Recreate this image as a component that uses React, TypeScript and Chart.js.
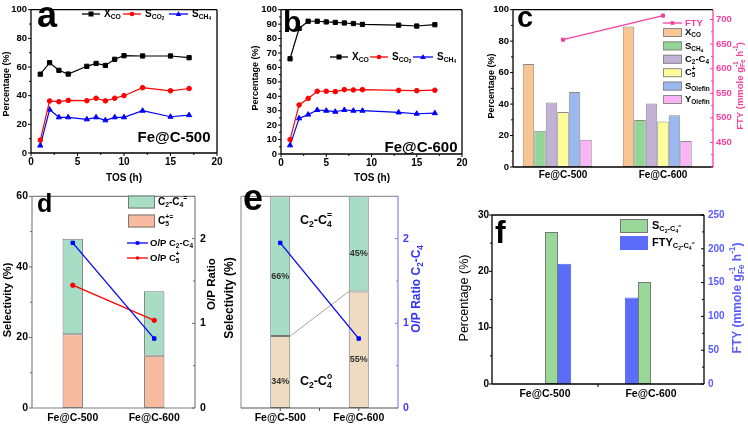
import React, { useEffect, useRef } from 'react';
import { Chart, registerables } from 'chart.js';

Chart.register(...registerables);

const FONT = '"Liberation Sans", Arial, Helvetica, sans-serif';

// ---------------- data ----------------
const tosA = [1, 2, 3, 4, 6, 7, 8, 9, 10, 12, 15, 17];
const xcoA = [55, 63, 57.7, 55.1, 60.5, 62.5, 61.1, 65.4, 67.9, 67.7, 67.7, 66.5];
const sco2A = [9, 36.3, 35.8, 36.7, 36.5, 38.2, 36.4, 38.2, 40, 45.6, 43.4, 45];
const sch4A = [5.2, 30.3, 24.9, 24.9, 23.5, 24.9, 22.8, 24.9, 24.9, 29.5, 25.3, 26.4];

const tosB = [1, 2, 3, 4, 5, 6, 7, 8, 9, 13, 15, 17];
const xcoB = [66, 87, 92, 92, 91.5, 91.2, 90.8, 90.4, 89.8, 89.3, 88.7, 89.6];
const sco2B = [10, 34, 38.5, 43.5, 43.5, 43.2, 44.6, 44.4, 44.6, 44.1, 43.9, 44.2];
const sch4B = [6, 24.7, 27.3, 30.5, 30, 29.3, 30.5, 30, 30, 28.8, 27.9, 28.3];

const catsFe = ['Fe@C-500', 'Fe@C-600'];
const xcoC = [65.5, 89.3];
const sch4C = [23.1, 29.9];
const c2c4C = [41, 40.3];
const c5C = [34.9, 29];
const sOlefinC = [47.7, 32.9];
const yOlefinC = [17.3, 16.5];
const ftyC = [659, 708];
const ftyTicksC = [450, 500, 550, 600, 650, 700];

const c5oleD = [20.9, 14.8];
const c2c4oleD = [27.1, 18.3];
const opC2C4 = [1.95, 0.82];
const opC5 = [1.45, 1.035];
const ratioTicks = [0, 1, 2];

const paraffinE = [34, 55];
const olefinE = [66, 45];

const sC2C4F = [27, 18.1];
const ftyC2C4F = [178, 128];

// ---------------- colours ----------------
const RED = '#ff0000';
const BLUE = '#0000ff';
const PINK = '#f5409e';
const FBLUE = '#5a5cff';

// ---------------- rich text ----------------
function font(fs: number, bold: boolean) {
  return `${bold ? 'bold ' : ''}${fs}px ${FONT}`;
}
function group(s: string, j: number): [string, number] {
  let depth = 0;
  let k = j;
  for (; k < s.length; k++) {
    if (s[k] === '{') depth++;
    else if (s[k] === '}') {
      depth--;
      if (depth === 0) break;
    }
  }
  return [s.slice(j + 1, k), k + 1];
}
type Run = { t: string; x: number; dy: number; fs: number };
function lay(ctx: CanvasRenderingContext2D, s: string, fs: number, dy: number, x0: number, bold: boolean, out: Run[]): number {
  let x = x0;
  let buf = '';
  let i = 0;
  const flush = () => {
    if (buf) {
      ctx.font = font(fs, bold);
      out.push({ t: buf, x, dy, fs });
      x += ctx.measureText(buf).width;
      buf = '';
    }
  };
  const off = (k: string) => (k === '_' ? fs * 0.3 : -fs * 0.4);
  while (i < s.length) {
    const c = s[i];
    if ((c === '_' || c === '^') && s[i + 1] === '{') {
      flush();
      const sf = fs * 0.68;
      const [g1, n1] = group(s, i + 1);
      let end = lay(ctx, g1, sf, dy + off(c), x, bold, out);
      i = n1;
      const c2 = s[i];
      if ((c2 === '_' || c2 === '^') && c2 !== c && s[i + 1] === '{') {
        const [g2, n2] = group(s, i + 1);
        end = Math.max(end, lay(ctx, g2, sf, dy + off(c2), x, bold, out));
        i = n2;
      }
      x = end;
      continue;
    }
    if (c === '|') {
      flush();
      i++;
      continue;
    }
    buf += c;
    i++;
  }
  flush();
  return x;
}
function drawRich(ctx: CanvasRenderingContext2D, s: string, x: number, y: number, o: any) {
  const bold = o.bold !== false;
  const runs: Run[] = [];
  const w = lay(ctx, s, o.size, 0, 0, bold, runs);
  ctx.save();
  ctx.translate(x, y);
  if (o.rot) ctx.rotate(-Math.PI / 2);
  const ax = o.align === 'left' ? 0 : o.align === 'right' ? -w : -w / 2;
  ctx.fillStyle = o.color || '#000';
  ctx.textAlign = 'left';
  ctx.textBaseline = o.bl || 'middle';
  for (const r of runs) {
    ctx.font = font(r.fs, bold);
    ctx.fillText(r.t, ax + r.x, r.dy);
  }
  ctx.restore();
}
function marker(ctx: CanvasRenderingContext2D, m: string, x: number, y: number, c: string, r: number) {
  ctx.fillStyle = c;
  ctx.beginPath();
  if (m === 'rect') ctx.rect(x - r, y - r, 2 * r, 2 * r);
  else if (m === 'circle') ctx.arc(x, y, r, 0, Math.PI * 2);
  else if (m === 'triangle') {
    ctx.moveTo(x, y - r * 1.2);
    ctx.lineTo(x + r * 1.1, y + r * 0.8);
    ctx.lineTo(x - r * 1.1, y + r * 0.8);
    ctx.closePath();
  }
  ctx.fill();
}

// ---------------- decoration plugin ----------------
function deco(spec: any) {
  return {
    id: 'deco',
    beforeDatasetsDraw(chart: any) {
      const ctx: CanvasRenderingContext2D = chart.ctx;
      if (spec.connector) {
        const meta = chart.getDatasetMeta(spec.connector.ds);
        const a = meta.data[0].getProps(['x', 'y', 'width'], true);
        const b = meta.data[1].getProps(['x', 'y', 'width'], true);
        ctx.save();
        ctx.strokeStyle = spec.connector.color;
        ctx.lineWidth = 0.8;
        ctx.beginPath();
        ctx.moveTo(a.x + a.width / 2, a.y);
        ctx.lineTo(b.x - b.width / 2, b.y);
        ctx.stroke();
        ctx.restore();
      }
    },
    afterDraw(chart: any) {
      const ctx: CanvasRenderingContext2D = chart.ctx;
      const ca = chart.chartArea;
      const ox = spec.ox || 0;
      const oy = spec.oy || 0;
      ctx.save();
      if (spec.barLabels) {
        const bl = spec.barLabels;
        for (const di of bl.ds) {
          const meta = chart.getDatasetMeta(di);
          meta.data.forEach((el: any, j: number) => {
            const v = chart.data.datasets[di].data[j];
            const p = el.getProps(['x', 'y', 'base'], true);
            drawRich(ctx, `${v}%`, p.x, (p.y + p.base) / 2 + bl.dy, { size: bl.size, color: bl.color });
          });
        }
      }
      const f = spec.frame;
      if (f) {
        ctx.lineWidth = f.w || 1.2;
        const seg = (c: string, x1: number, y1: number, x2: number, y2: number) => {
          if (!c) return;
          ctx.strokeStyle = c;
          ctx.beginPath();
          ctx.moveTo(x1, y1);
          ctx.lineTo(x2, y2);
          ctx.stroke();
        };
        seg(f.top, ca.left, ca.top, ca.right, ca.top);
        seg(f.left, ca.left, ca.top, ca.left, ca.bottom);
        seg(f.right, ca.right, ca.top, ca.right, ca.bottom);
        seg(f.bottom, ca.left, ca.bottom, ca.right, ca.bottom);
      }
      for (const t of spec.ticks || []) {
        const sc: any = chart.scales[t.id];
        if (!sc) continue;
        ctx.strokeStyle = t.color || '#000';
        ctx.lineWidth = 1;
        const len = t.len ?? 3;
        const mlen = t.mlen ?? 2;
        const majors: number[] = [];
        const minors: number[] = [];
        if (sc.type === 'category') {
          const n = sc.getLabels().length;
          if (!t.midOnly) for (let i = 0; i < n; i++) majors.push(sc.getPixelForValue(i));
          if (t.mid || t.midOnly) for (let i = 0; i < n - 1; i++) majors.push(sc.getPixelForValue(i + 0.5));
        } else {
          const tv = sc.ticks.map((k: any) => k.value);
          tv.forEach((v: number) => majors.push(sc.getPixelForValue(v)));
          if (t.minor) {
            for (let v = sc.min; v <= sc.max + 1e-9; v += t.minor) {
              if (!tv.some((u: number) => Math.abs(u - v) < 1e-6)) minors.push(sc.getPixelForValue(v));
            }
          }
        }
        const drawT = (p: number, L: number) => {
          ctx.beginPath();
          if (t.side === 'bottom') {
            const y0 = ca.bottom;
            ctx.moveTo(p, y0);
            ctx.lineTo(p, y0 + (t.dir === 'out' ? L : -L));
          } else {
            const x0 = t.side === 'left' ? ca.left : ca.right;
            const s = (t.side === 'left') === (t.dir === 'out') ? -1 : 1;
            ctx.moveTo(x0, p);
            ctx.lineTo(x0 + s * L, p);
          }
          ctx.stroke();
        };
        majors.forEach((p) => drawT(p, len));
        minors.forEach((p) => drawT(p, mlen));
      }
      for (const L of spec.legend || []) {
        const x = L.x - ox;
        const y = L.y - oy;
        if (L.t === 'line') {
          ctx.strokeStyle = L.color;
          ctx.lineWidth = 1.3;
          ctx.beginPath();
          ctx.moveTo(x, y);
          ctx.lineTo(x + L.w, y);
          ctx.stroke();
          marker(ctx, L.marker, x + L.w / 2, y, L.color, L.r || 2.5);
        } else {
          ctx.fillStyle = L.fill;
          ctx.fillRect(x, y - L.h / 2, L.w, L.h);
          ctx.strokeStyle = L.stroke;
          ctx.lineWidth = 1;
          ctx.strokeRect(x + 0.5, y - L.h / 2 + 0.5, L.w - 1, L.h - 1);
        }
        drawRich(ctx, L.label, x + L.w + (L.gap ?? 4), y, { size: L.size || 10, color: L.lc || '#000', align: 'left' });
      }
      for (const T of spec.texts || []) {
        drawRich(ctx, T.s, T.x - ox, T.y - oy, T);
      }
      ctx.restore();
    },
  };
}

// ---------------- helpers ----------------
const common = (pad: any) => ({
  responsive: false,
  maintainAspectRatio: false,
  animation: false,
  devicePixelRatio: 1,
  events: [],
  layout: { padding: { left: 0, bottom: 0, right: 0, top: 0, ...pad } },
  plugins: { legend: { display: false }, tooltip: { enabled: false }, title: { display: false } },
});

function axis(o: any) {
  return {
    type: o.type || 'linear',
    position: o.pos,
    min: o.min,
    max: o.max,
    stacked: o.stacked,
    afterFit: (s: any) => {
      if (o.w != null) s.width = o.w;
      if (o.h != null) s.height = o.h;
    },
    afterBuildTicks: o.ticksAt
      ? (s: any) => {
          s.ticks = o.ticksAt.map((v: number) => ({ value: v }));
        }
      : undefined,
    grid: { display: false, drawTicks: false },
    border: { display: false },
    ticks: {
      display: o.show !== false,
      stepSize: o.step,
      font: { family: FONT, size: o.fs || 10, weight: 'bold' },
      color: o.color || '#000',
      padding: o.pad ?? 4,
      maxRotation: 0,
      autoSkip: false,
    },
  };
}

function lineXY(xs: number[], ys: number[], color: string, style: string) {
  return {
    type: 'line',
    data: xs.map((x, i) => ({ x, y: ys[i] })),
    borderColor: color,
    backgroundColor: color,
    pointBackgroundColor: color,
    pointBorderColor: color,
    borderWidth: 1.2,
    pointBorderWidth: 1,
    pointStyle: style,
    pointRadius: style === 'circle' ? 2.3 : 3,
    tension: 0,
    fill: false,
  };
}

function barDs(data: any[], color: string, border: string, extra: any = {}) {
  return {
    type: 'bar',
    data,
    backgroundColor: color,
    borderColor: border,
    borderWidth: 1,
    borderSkipped: false,
    order: 2,
    ...extra,
  };
}

function catLine(data: number[], color: string, style: string, axisId: string, r = 2.5) {
  return {
    type: 'line',
    data,
    yAxisID: axisId,
    borderColor: color,
    backgroundColor: color,
    pointBackgroundColor: color,
    pointBorderColor: color,
    borderWidth: 1.3,
    pointStyle: style,
    pointRadius: r,
    pointBorderWidth: 1,
    tension: 0,
    fill: false,
    order: 0,
  };
}

// ---------------- panels ----------------
function makeA() {
  return {
    type: 'line',
    data: {
      datasets: [lineXY(tosA, xcoA, '#000', 'rect'), lineXY(tosA, sco2A, RED, 'circle'), lineXY(tosA, sch4A, BLUE, 'triangle')],
    },
    options: {
      ...common({ top: 5, right: 28 }),
      scales: {
        x: axis({ pos: 'bottom', min: 0, max: 20, step: 5, h: 37, pad: 3, fs: 10 }),
        y: axis({ pos: 'left', min: 0, max: 100, step: 20, w: 31, pad: 4, fs: 9.5 }),
      },
    },
    plugins: [
      deco({
        ox: 0,
        oy: 0,
        frame: { top: '#000', right: '#000', bottom: '#000', left: '#000', w: 1.3 },
        ticks: [
          { id: 'x', side: 'bottom', dir: 'out', len: 3, minor: 2.5 },
          { id: 'y', side: 'left', dir: 'out', len: 3, minor: 10 },
        ],
        legend: [
          { t: 'line', x: 82, y: 14, w: 18, color: '#000', marker: 'rect', label: 'X_{CO}' },
          { t: 'line', x: 123, y: 14, w: 18, color: RED, marker: 'circle', r: 2.3, label: 'S_{CO_{2}}' },
          { t: 'line', x: 169, y: 14, w: 19, color: BLUE, marker: 'triangle', label: 'S_{CH_{4}}' },
        ],
        texts: [
          { s: 'a', x: 37, y: 27, size: 36, bl: 'alphabetic', align: 'left' },
          { s: 'Fe@C-500', x: 174, y: 138, size: 15 },
          { s: 'Percentage (%)', x: 7, y: 84, size: 9, rot: true },
          { s: 'TOS (h)', x: 124, y: 178, size: 10 },
        ],
      }),
    ],
  };
}

function makeB() {
  return {
    type: 'line',
    data: {
      datasets: [lineXY(tosB, xcoB, '#000', 'rect'), lineXY(tosB, sco2B, RED, 'circle'), lineXY(tosB, sch4B, BLUE, 'triangle')],
    },
    options: {
      ...common({ top: 7, right: 33 }),
      scales: {
        x: axis({ pos: 'bottom', min: 0, max: 20, step: 5, h: 36, pad: 3, fs: 10 }),
        y: axis({ pos: 'left', min: 0, max: 100, step: 10, w: 36, pad: 4, fs: 9.5 }),
      },
    },
    plugins: [
      deco({
        ox: 245,
        oy: 0,
        frame: { top: '#000', right: '#000', bottom: '#000', left: '#000', w: 1.3 },
        ticks: [
          { id: 'x', side: 'bottom', dir: 'out', len: 3, minor: 2.5 },
          { id: 'y', side: 'left', dir: 'out', len: 3, minor: 5 },
        ],
        legend: [
          { t: 'line', x: 330, y: 57, w: 18, color: '#000', marker: 'rect', label: 'X_{CO}' },
          { t: 'line', x: 370, y: 57, w: 18, color: RED, marker: 'circle', r: 2.3, label: 'S_{CO_{2}}' },
          { t: 'line', x: 413, y: 57, w: 20, color: BLUE, marker: 'triangle', label: 'S_{CH_{4}}' },
        ],
        texts: [
          { s: 'b', x: 283, y: 32, size: 30, bl: 'alphabetic', align: 'left' },
          { s: 'Fe@C-600', x: 421, y: 148, size: 15 },
          { s: 'Percentage (%)', x: 256, y: 78, size: 9, rot: true },
          { s: 'TOS (h)', x: 372, y: 178, size: 10 },
        ],
      }),
    ],
  };
}

const cColors = ['#f9c592', '#93d595', '#c2b0d6', '#fdfd9a', '#9bb8f0', '#fab3f5'];
const cLabels = ['X_{CO}', 'S_{CH_{4}}', 'C_{2}-C_{4}', 'C_{5}^{+}', 'S_{Olefin}', 'Y_{Olefin}'];

function makeC() {
  const series = [xcoC, sch4C, c2c4C, c5C, sOlefinC, yOlefinC];
  const bp = { categoryPercentage: 0.805, barPercentage: 1 };
  return {
    type: 'bar',
    data: {
      labels: catsFe,
      datasets: [
        ...series.map((s, i) => barDs(s, cColors[i], '#8a8a8a', bp)),
        barDs(catsFe.map(() => null), '#fff', '#fff', bp),
        catLine(ftyC, PINK, 'rect', 'y1', 2.2),
      ],
    },
    options: {
      ...common({ top: 6 }),
      scales: {
        x: axis({ type: 'category', pos: 'bottom', h: 23, pad: 2, fs: 10 }),
        y: axis({ pos: 'left', min: 0, max: 100, step: 20, w: 33, pad: 4, fs: 9.5 }),
        y1: axis({ pos: 'right', min: 400, max: 720, ticksAt: ftyTicksC, w: 35, pad: 3, fs: 9.5, color: PINK }),
      },
    },
    plugins: [
      deco({
        ox: 480,
        oy: 0,
        frame: { top: '#000', right: PINK, bottom: '#000', left: '#000', w: 1.3 },
        ticks: [
          { id: 'y', side: 'left', dir: 'out', len: 3, minor: 10 },
          { id: 'y1', side: 'right', dir: 'in', len: 3, minor: 25, color: PINK },
        ],
        legend: [
          { t: 'line', x: 663, y: 23, w: 19, color: PINK, marker: 'rect', r: 1.8, label: 'FTY', lc: PINK, size: 9.5, gap: 3 },
          ...cLabels.map((lab, i) => ({
            t: 'box',
            x: 663,
            y: 32.5 + i * 13.4,
            w: 19,
            h: 9,
            fill: cColors[i],
            stroke: '#8a8a8a',
            label: lab,
            size: 9.5,
            gap: 3,
          })),
        ],
        texts: [
          { s: 'c', x: 517, y: 27, size: 29, bl: 'alphabetic', align: 'left' },
          { s: 'Percentage (%)', x: 492, y: 86, size: 9, rot: true },
          { s: 'FTY (mmole g_{Fe}^{-1} h^{-1})', x: 740, y: 86, size: 9.5, rot: true, color: PINK },
        ],
      }),
    ],
  };
}

const GREEN_D = '#a7dcc5';
const SALMON = '#f8bba0';
const TAN = '#efdcc0';

function makeD() {
  const bp = { categoryPercentage: 0.25, barPercentage: 1 };
  return {
    type: 'bar',
    data: {
      labels: catsFe,
      datasets: [
        barDs(c5oleD, SALMON, '#777', bp),
        barDs(c2c4oleD, GREEN_D, '#777', bp),
        catLine(opC2C4, BLUE, 'rect', 'y1', 2.4),
        catLine(opC5, RED, 'circle', 'y1', 2.2),
      ],
    },
    options: {
      ...common({ top: 4 }),
      scales: {
        x: axis({ type: 'category', pos: 'bottom', h: 18, pad: 4, fs: 10.5, stacked: true }),
        y: axis({ pos: 'left', min: 0, max: 60, step: 20, w: 32, pad: 4, fs: 10.5, stacked: true }),
        y1: axis({ pos: 'right', min: 0, max: 2.5, ticksAt: ratioTicks, w: 45, pad: 5, fs: 10.5 }),
      },
    },
    plugins: [
      deco({
        ox: 0,
        oy: 185,
        frame: { top: '#808080', right: '#808080', bottom: '#808080', left: '#808080', w: 1.2 },
        ticks: [
          { id: 'y', side: 'left', dir: 'out', len: 3, minor: 10, color: '#666' },
          { id: 'y1', side: 'right', dir: 'in', len: 3, minor: 0.5, color: '#666' },
        ],
        legend: [
          { t: 'box', x: 128, y: 202, w: 27, h: 13, fill: GREEN_D, stroke: '#777', label: 'C_{2}-C_{4}|^{=}', size: 10, gap: 3 },
          { t: 'box', x: 128, y: 221, w: 27, h: 13, fill: SALMON, stroke: '#777', label: 'C_{5}^{+}|^{=}', size: 10, gap: 3 },
          { t: 'line', x: 127, y: 243, w: 21, color: BLUE, marker: 'rect', r: 1.8, label: 'O/P C_{2}-C_{4}', size: 9.5, gap: 2 },
          { t: 'line', x: 127, y: 258, w: 21, color: RED, marker: 'circle', r: 1.8, label: 'O/P C_{5}^{+}', size: 9.5, gap: 2 },
        ],
        texts: [
          { s: 'd', x: 37, y: 212, size: 25, bl: 'alphabetic', align: 'left' },
          { s: 'Selectivity (%)', x: 8, y: 300, size: 11, rot: true },
          { s: 'O/P Ratio', x: 212, y: 284, size: 11.5, rot: true },
        ],
      }),
    ],
  };
}

function makeE() {
  const bp = { categoryPercentage: 0.255, barPercentage: 1 };
  return {
    type: 'bar',
    data: {
      labels: catsFe,
      datasets: [barDs(paraffinE, TAN, '#777', bp), barDs(olefinE, GREEN_D, '#777', bp), catLine(opC2C4, BLUE, 'rect', 'y1', 2.4)],
    },
    options: {
      ...common({ top: 5 }),
      scales: {
        x: axis({ type: 'category', pos: 'bottom', h: 18, pad: 4, fs: 10.5, stacked: true }),
        y: axis({ pos: 'left', min: 0, max: 100, step: 20, w: 23, show: false, stacked: true }),
        y1: axis({ pos: 'right', min: 0, max: 2.5, ticksAt: ratioTicks, w: 42, pad: 5, fs: 10.5, color: '#3a3aff' }),
      },
    },
    plugins: [
      deco({
        ox: 218,
        oy: 185,
        frame: { top: '#999', right: '#8080ff', bottom: '#555', left: '#999', w: 1.2 },
        ticks: [
          { id: 'y1', side: 'right', dir: 'in', len: 3, minor: 0.5, color: '#8080ff' },
          { id: 'x', side: 'bottom', dir: 'out', len: 3, mid: true, color: '#555' },
        ],
        connector: { ds: 0, color: '#8c8c8c' },
        barLabels: { ds: [0, 1], dy: 10, size: 9, color: '#333' },
        texts: [
          { s: 'e', x: 243, y: 210, size: 36, bl: 'alphabetic', align: 'left' },
          { s: 'C_{2}-C_{4}^{=}', x: 316, y: 221, size: 12.5 },
          { s: 'C_{2}-C_{4}^{o}', x: 316, y: 382, size: 12.5 },
          { s: 'Selectivity (%)', x: 230, y: 298, size: 12, rot: true },
          { s: 'O/P Ratio C_{2}-C_{4}', x: 417, y: 289, size: 12, rot: true, color: '#3333ff' },
        ],
      }),
    ],
  };
}

const GREEN_F = '#99d899';
const BLUE_F = '#5b6cf8';

function makeF() {
  const bp = { categoryPercentage: 0.49, barPercentage: 1 };
  return {
    type: 'bar',
    data: {
      labels: catsFe,
      datasets: [
        barDs([null, ftyC2C4F[1]], BLUE_F, BLUE_F, { ...bp, yAxisID: 'y1' }),
        barDs([null, sC2C4F[1]], GREEN_F, '#7a7a7a', bp),
        barDs([sC2C4F[0], null], GREEN_F, '#7a7a7a', bp),
        barDs([ftyC2C4F[0], null], BLUE_F, BLUE_F, { ...bp, yAxisID: 'y1' }),
      ],
    },
    options: {
      ...common({ top: 8 }),
      scales: {
        x: axis({ type: 'category', pos: 'bottom', h: 42, pad: 4, fs: 10.5 }),
        y: axis({ pos: 'left', min: 0, max: 30, step: 10, w: 47, pad: 3, fs: 10 }),
        y1: axis({ pos: 'right', min: 0, max: 250, step: 50, w: 44, pad: 4, fs: 10, color: FBLUE }),
      },
    },
    plugins: [
      deco({
        ox: 445,
        oy: 205,
        frame: { top: '#000', right: '#000', bottom: '#000', left: '#000', w: 1.3 },
        ticks: [
          { id: 'y', side: 'left', dir: 'out', len: 3, minor: 5 },
          { id: 'y1', side: 'right', dir: 'in', len: 3, minor: 25 },
          { id: 'x', side: 'bottom', dir: 'out', len: 3, midOnly: true },
        ],
        legend: [
          { t: 'box', x: 620, y: 226, w: 28, h: 14, fill: GREEN_F, stroke: '#777', label: 'S_{C_{2}-C_{4}|^{=}}', size: 11, gap: 4 },
          { t: 'box', x: 620, y: 243, w: 28, h: 14, fill: BLUE_F, stroke: BLUE_F, label: 'FTY_{C_{2}-C_{4}|^{=}}', size: 11, gap: 4 },
        ],
        texts: [
          { s: 'f', x: 495, y: 243, size: 32, bl: 'alphabetic', align: 'left' },
          { s: 'Percentage (%)', x: 465, y: 298, size: 12.5, rot: true, bold: false },
          { s: 'FTY (mmole g_{Fe}^{-1} h^{-1})', x: 738, y: 298, size: 12, rot: true, color: FBLUE },
        ],
      }),
    ],
  };
}

// ---------------- components ----------------
function Panel({ x, y, w, h, make }: { x: number; y: number; w: number; h: number; make: () => any }) {
  const ref = useRef<HTMLCanvasElement | null>(null);
  useEffect(() => {
    if (!ref.current) return;
    const chart = new Chart(ref.current, make());
    return () => chart.destroy();
  }, [make]);
  return <canvas ref={ref} width={w} height={h} style={{ position: 'absolute', left: x, top: y, width: w, height: h }} />;
}

export default function App() {
  return (
    <div style={{ position: 'absolute', left: 0, top: 0, width: 748, height: 426, background: '#fff', overflow: 'hidden' }}>
      <Panel x={0} y={0} w={245} h={190} make={makeA} />
      <Panel x={245} y={0} w={250} h={190} make={makeB} />
      <Panel x={480} y={0} w={268} h={190} make={makeC} />
      <Panel x={0} y={185} w={240} h={241} make={makeD} />
      <Panel x={218} y={185} w={222} h={241} make={makeE} />
      <Panel x={445} y={205} w={303} h={221} make={makeF} />
    </div>
  );
}
